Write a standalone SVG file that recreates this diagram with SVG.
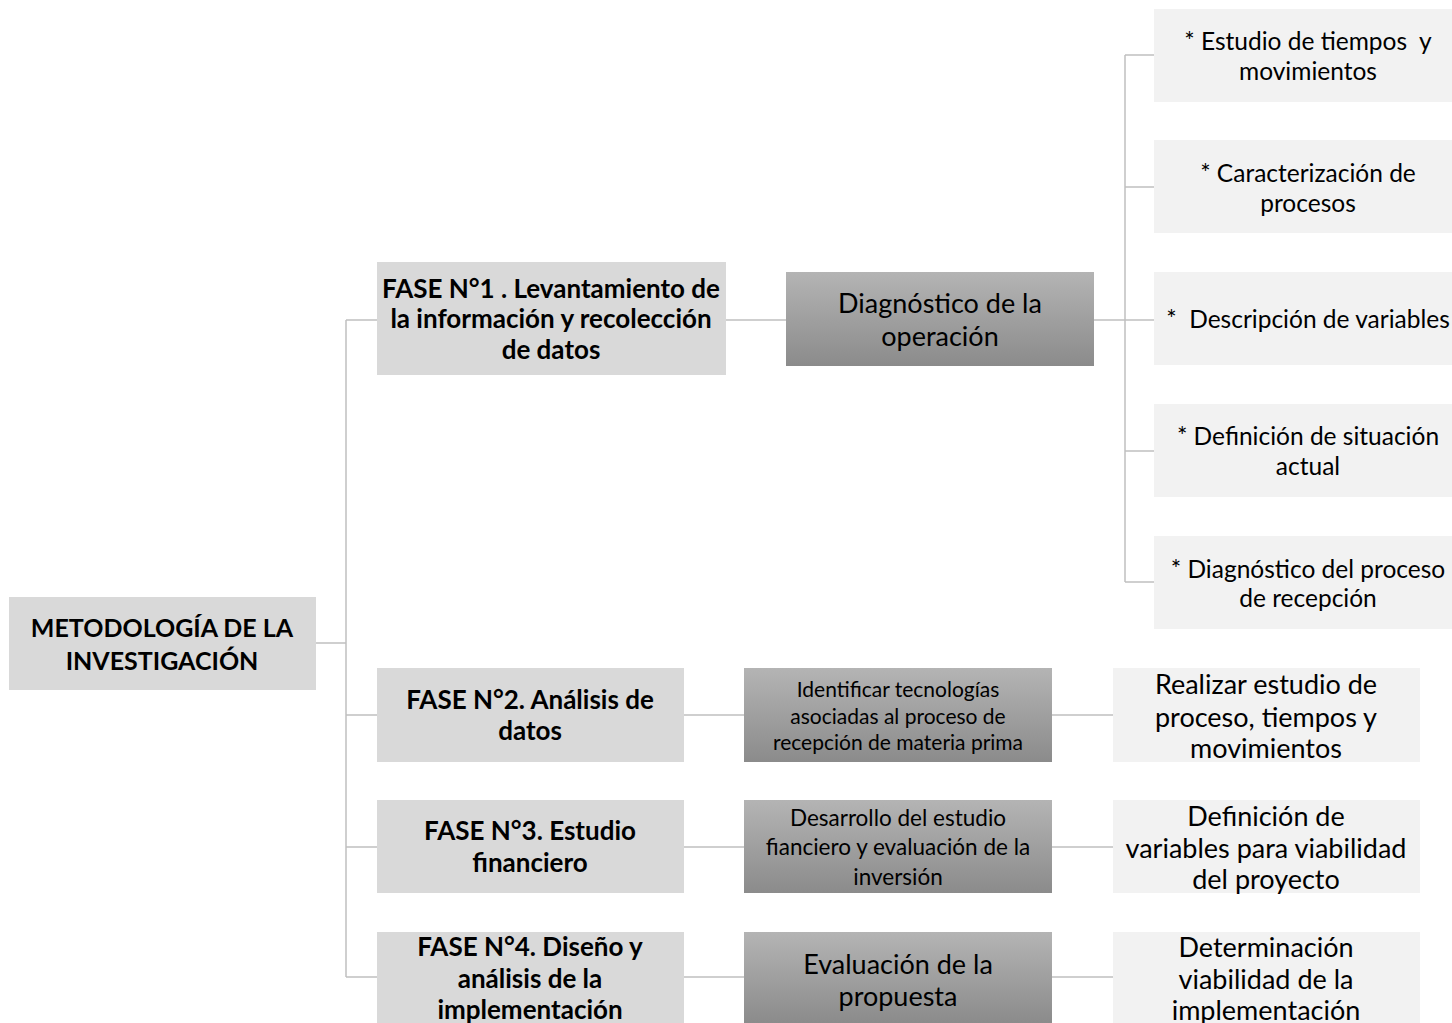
<svg xmlns="http://www.w3.org/2000/svg" width="1452" height="1023" viewBox="0 0 1452 1023">
  <defs>
    <linearGradient id="dark" x1="0" y1="0" x2="0" y2="1">
      <stop offset="0" stop-color="#b4b4b4"/>
      <stop offset="1" stop-color="#8b8b8b"/>
    </linearGradient>
    <style>
      text { font-family: Lato, "Open Sans", "Liberation Sans", sans-serif; fill: #000; text-anchor: middle; dominant-baseline: central; white-space: pre; }
      .b { font-weight: bold; font-size: 26px; }
      .big { font-size: 27px; }
      .item { font-size: 24.5px; }
      .mid { fill: #d9d9d9; }
      .dark { fill: url(#dark); }
      .light { fill: #f2f2f2; }
      .conn line { stroke: #bfbfbf; stroke-width: 1.5; fill: none; }
    </style>
  </defs>
  <rect width="1452" height="1023" fill="#fff"/>

  <g class="conn">
    <!-- trunk from the root to the four phases -->
    <line x1="316" y1="643" x2="346" y2="643"/>
    <line x1="346" y1="320" x2="346" y2="977"/>
    <line x1="346" y1="320" x2="377" y2="320"/>
    <line x1="346" y1="715" x2="377" y2="715"/>
    <line x1="346" y1="847" x2="377" y2="847"/>
    <line x1="346" y1="977" x2="377" y2="977"/>
    <!-- phase 1 branch -->
    <line x1="726" y1="320" x2="786" y2="320"/>
    <line x1="1094" y1="320" x2="1154" y2="320"/>
    <line x1="1125" y1="55" x2="1125" y2="582"/>
    <line x1="1125" y1="55" x2="1154" y2="55"/>
    <line x1="1125" y1="187" x2="1154" y2="187"/>
    <line x1="1125" y1="451" x2="1154" y2="451"/>
    <line x1="1125" y1="582" x2="1154" y2="582"/>
    <!-- phases 2-4 rows -->
    <line x1="684" y1="715" x2="744" y2="715"/>
    <line x1="1052" y1="715" x2="1113" y2="715"/>
    <line x1="684" y1="847" x2="744" y2="847"/>
    <line x1="1052" y1="847" x2="1113" y2="847"/>
    <line x1="684" y1="977" x2="744" y2="977"/>
    <line x1="1052" y1="977" x2="1113" y2="977"/>
  </g>

  <g id="root">
    <rect class="mid" x="9" y="597" width="307" height="93"/>
    <text class="b" style="font-size:25px" x="162" y="627">METODOLOGÍA DE LA</text>
    <text class="b" style="font-size:25px" x="162" y="660">INVESTIGACIÓN</text>
  </g>

  <g id="fase1">
    <rect class="mid" x="377" y="262" width="349" height="113"/>
    <text class="b" x="551" y="288">FASE N°1 . Levantamiento de</text>
    <text class="b" x="551" y="318">la información y recolección</text>
    <text class="b" x="551" y="349">de datos</text>
  </g>

  <g id="diagnostico">
    <rect class="dark" x="786" y="272" width="308" height="94"/>
    <text class="big" x="940" y="302">Diagnóstico de la</text>
    <text class="big" x="940" y="335">operación</text>
  </g>

  <g id="item1">
    <rect class="light" x="1154" y="9" width="298" height="93"/>
    <text class="item" x="1308" y="40">* Estudio de tiempos  y</text>
    <text class="item" x="1308" y="70">movimientos</text>
  </g>
  <g id="item2">
    <rect class="light" x="1154" y="140" width="298" height="93"/>
    <text class="item" x="1308" y="172">* Caracterización de</text>
    <text class="item" x="1308" y="202">procesos</text>
  </g>
  <g id="item3">
    <rect class="light" x="1154" y="272" width="298" height="93"/>
    <text class="item" x="1308" y="318">*  Descripción de variables</text>
  </g>
  <g id="item4">
    <rect class="light" x="1154" y="404" width="298" height="93"/>
    <text class="item" x="1308" y="435">* Definición de situación</text>
    <text class="item" x="1308" y="465">actual</text>
  </g>
  <g id="item5">
    <rect class="light" x="1154" y="536" width="298" height="93"/>
    <text class="item" x="1308" y="568">* Diagnóstico del proceso</text>
    <text class="item" x="1308" y="597">de recepción</text>
  </g>

  <g id="fase2">
    <rect class="mid" x="377" y="668" width="307" height="94"/>
    <text class="b" x="530" y="699">FASE N°2. Análisis de</text>
    <text class="b" x="530" y="730">datos</text>
  </g>
  <g id="tecnologias">
    <rect class="dark" x="744" y="668" width="308" height="94"/>
    <text font-size="21" x="898" y="688">Identificar tecnologías</text>
    <text font-size="21" x="898" y="715">asociadas al proceso de</text>
    <text font-size="21" x="898" y="741">recepción de materia prima</text>
  </g>
  <g id="estudio">
    <rect class="light" x="1113" y="668" width="307" height="94"/>
    <text class="big" x="1266" y="683">Realizar estudio de</text>
    <text class="big" x="1266" y="716">proceso, tiempos y</text>
    <text class="big" x="1266" y="747">movimientos</text>
  </g>

  <g id="fase3">
    <rect class="mid" x="377" y="800" width="307" height="93"/>
    <text class="b" x="530" y="830">FASE N°3. Estudio</text>
    <text class="b" x="530" y="862">financiero</text>
  </g>
  <g id="financiero">
    <rect class="dark" x="744" y="800" width="308" height="93"/>
    <text font-size="22.5" x="898" y="817">Desarrollo del estudio</text>
    <text font-size="22.5" x="898" y="846">fianciero y evaluación de la</text>
    <text font-size="22.5" x="898" y="876">inversión</text>
  </g>
  <g id="variables">
    <rect class="light" x="1113" y="800" width="307" height="93"/>
    <text class="big" x="1266" y="815">Definición de</text>
    <text class="big" x="1266" y="847">variables para viabilidad</text>
    <text class="big" x="1266" y="878">del proyecto</text>
  </g>

  <g id="fase4">
    <rect class="mid" x="377" y="932" width="307" height="91"/>
    <text class="b" x="530" y="946">FASE N°4. Diseño y</text>
    <text class="b" x="530" y="978">análisis de la</text>
    <text class="b" x="530" y="1009">implementación</text>
  </g>
  <g id="evaluacion">
    <rect class="dark" x="744" y="932" width="308" height="91"/>
    <text class="big" x="898" y="963">Evaluación de la</text>
    <text class="big" x="898" y="995">propuesta</text>
  </g>
  <g id="viabilidad">
    <rect class="light" x="1113" y="932" width="307" height="91"/>
    <text class="big" x="1266" y="946">Determinación</text>
    <text class="big" x="1266" y="978">viabilidad de la</text>
    <text class="big" x="1266" y="1009">implementación</text>
  </g>
</svg>
